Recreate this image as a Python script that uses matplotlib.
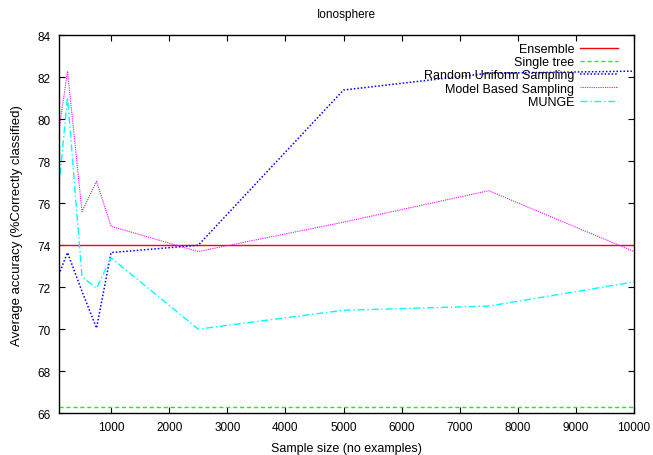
import numpy as np
import matplotlib
matplotlib.use('Agg')
import matplotlib.pyplot as plt

plt.rcParams['font.family'] = ['Liberation Sans', 'DejaVu Sans']

# sample sizes
sizes = [100, 250, 500, 750, 1000, 2500, 5000, 7500, 10000]

ensemble = 74.0
single_tree = 66.3
random_uniform = [72.6, 73.65, 71.8, 70.05, 73.65, 74.0, 81.4, 82.2, 82.3]
model_based = [79.4, 82.3, 75.6, 77.05, 74.9, 73.7, 75.1, 76.6, 73.7]
munge = [76.7, 81.05, 72.5, 71.95, 73.4, 70.0, 70.9, 71.1, 72.25]

fig = plt.figure(figsize=(6.53, 4.56), dpi=100)
ax = fig.add_axes([0.090, 0.092, 0.881, 0.828])

ax.axhline(ensemble, color='#ff0000', lw=1.0, label='Ensemble')
ax.axhline(single_tree, color='#00ff00', lw=1.0, ls=(0, (3, 2)), label='Single tree')
ax.plot(sizes, random_uniform, color='#0000ff', lw=1.1, ls=(0, (1, 1.3)), label='Random Uniform Sampling')
ax.plot(sizes, model_based, color='#ff00ff', lw=0.8, ls=(0, (1, 1)), label='Model Based Sampling')
ax.plot(sizes, munge, color='#00ffff', lw=1.0, ls=(0, (5, 2, 1, 2)), label='MUNGE')

ax.set_xlim(100, 10000)
ax.set_ylim(66, 84)
ax.set_xticks(range(1000, 10001, 1000))
ax.set_yticks(range(66, 85, 2))
ax.tick_params(direction='in', top=True, right=True, labelsize=8.5, length=4, pad=6)
for s in ax.spines.values():
    s.set_linewidth(1.0)

ax.set_title('Ionosphere', fontsize=8.5, pad=13)
ax.set_xlabel('Sample size (no examples)', fontsize=9, labelpad=6)
ax.set_ylabel('Average accuracy (%Correctly classified)', fontsize=9.5, labelpad=10)

ax.legend(loc='upper right', frameon=False, markerfirst=False, fontsize=9,
          handlelength=3.0, labelspacing=0.1, borderaxespad=0.2, handletextpad=0.5,
          bbox_to_anchor=(0.985, 1.0))

fig.savefig('out.png', dpi=100)
